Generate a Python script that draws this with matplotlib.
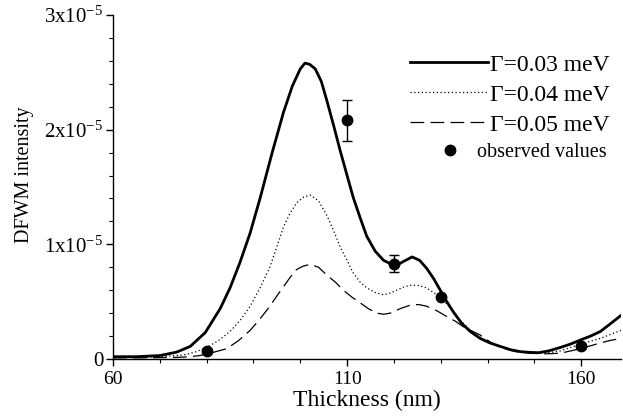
"""DFWM intensity vs. layer thickness for three damping values, with observed points."""
import numpy as np
import matplotlib
matplotlib.use("Agg")
import matplotlib.pyplot as plt
from matplotlib.lines import Line2D
from matplotlib.ticker import FuncFormatter, MultipleLocator, FixedLocator

# values, intensity in units of 1e-5
x_g003 = [60, 65, 70, 73.6, 76.5, 79.7, 82.9, 85, 87.1, 89.3, 91.4, 94.0, 96.4, 98.3,
          100, 101, 102, 103.2, 104.5, 105.7, 107.1, 108.5, 110, 111.3, 112.8, 114.2,
          116, 117.8, 120.3, 122, 123.9, 125.5, 127, 128.5, 129.9, 131.3, 132.7, 134.5,
          136.3, 138.4, 140.5, 142.7, 145, 147, 149, 150.9, 153, 155.5, 157.7, 159.8,
          162, 164.1, 166, 168.5]
y_g003 = [0.02, 0.02, 0.03, 0.06, 0.11, 0.23, 0.44, 0.62, 0.84, 1.1, 1.4, 1.8, 2.15, 2.38,
          2.53, 2.58, 2.57, 2.53, 2.42, 2.25, 2.04, 1.82, 1.6, 1.41, 1.23, 1.07,
          0.94, 0.86, 0.81, 0.85, 0.89, 0.86, 0.79, 0.7, 0.6, 0.5, 0.41, 0.31,
          0.24, 0.18, 0.14, 0.11, 0.08, 0.064, 0.058, 0.055, 0.07, 0.1, 0.13, 0.165,
          0.2, 0.24, 0.3, 0.38]

x_g004 = [60, 65, 70, 75, 77.5, 80, 82.5, 85, 87.2, 89.3, 91.4, 93.5, 95, 96.4, 97.8,
          99.2, 100.6, 102.1, 103.9, 105.7, 107.1, 108.5, 110, 111.3, 112.8, 114.2,
          116, 117.8, 119.2, 120.6, 122.2, 123.8, 125.4, 127, 128.8, 130.6, 132.4,
          134.1, 135.9, 137.7, 140, 142.7, 145, 147, 149, 151, 153, 155.5, 157.7,
          159.8, 162, 164.1, 166, 168.5]
y_g004 = [0.015, 0.015, 0.02, 0.035, 0.06, 0.1, 0.16, 0.24, 0.34, 0.46, 0.62, 0.8, 0.98,
          1.15, 1.27, 1.36, 1.41, 1.43, 1.38, 1.25, 1.12, 0.98, 0.86, 0.75, 0.67, 0.62,
          0.58, 0.56, 0.575, 0.6, 0.63, 0.645, 0.64, 0.62, 0.57, 0.51, 0.43,
          0.34, 0.27, 0.21, 0.15, 0.11, 0.08, 0.064, 0.056, 0.052, 0.055, 0.07, 0.1,
          0.13, 0.155, 0.18, 0.21, 0.25]

x_g005 = [60, 65, 70, 74, 76.5, 78.5, 80.7, 82.5, 84.3, 86.8, 89.3, 91.4, 93.5, 95,
          96.4, 97.8, 99.2, 100.6, 102.1, 103.9, 105.7, 107.5, 109.2, 111, 112.8,
          114.5, 116.3, 117.8, 119.2, 121.4, 123.5, 125.3, 127, 129.2, 131.3, 133.1,
          134.9, 136.6, 138.4, 140.5, 142.7, 145.9, 149.1, 152.3, 155.5, 157.7,
          159.8, 162, 164.1, 166, 168.5]
y_g005 = [0.01, 0.01, 0.012, 0.015, 0.02, 0.03, 0.05, 0.07, 0.09, 0.16, 0.25, 0.35, 0.46,
          0.55, 0.63, 0.71, 0.78, 0.81, 0.825, 0.8, 0.73, 0.67, 0.6, 0.54, 0.49,
          0.44, 0.4, 0.39, 0.4, 0.44, 0.47, 0.475, 0.46, 0.42, 0.37, 0.33,
          0.28, 0.245, 0.21, 0.15, 0.1, 0.065, 0.05, 0.045, 0.05, 0.07,
          0.09, 0.115, 0.14, 0.16, 0.18]

obs_x = [80, 110, 120, 130, 160]
obs_y = [0.07, 2.08, 0.83, 0.54, 0.11]
obs_err = [0.0, 0.18, 0.075, 0.0, 0.0]

labels = ["\u0393=0.03 meV", "\u0393=0.04 meV", "\u0393=0.05 meV", "observed values"]
x_ticks = [60, 110, 160]

SCALE = 1e-5

plt.rcParams["font.family"] = ["Liberation Serif", "DejaVu Serif"]
plt.rcParams["mathtext.fontset"] = "custom"
plt.rcParams["mathtext.rm"] = "Liberation Serif"
plt.rcParams["mathtext.it"] = "Liberation Serif:italic"


def sci_fmt(v, _):
    """Tick labels like 2x10^-5."""
    n = v / SCALE
    if abs(n) < 1e-9:
        return "0"
    return r"%dx10$^{\mathregular{-5}}$" % round(n)


fig = plt.figure(figsize=(6.23, 4.2), dpi=100)
ax = fig.add_axes([113 / 623, 1 - 359 / 420, 508 / 623, 344 / 420])

s = lambda v: np.array(v) * SCALE

ax.plot(x_g003, s(y_g003), color="black", linewidth=2.0, label=labels[0],
        solid_joinstyle="round", zorder=3)
ax.plot(x_g004, s(y_g004), color="black", linewidth=0.9, linestyle=(0, (1, 2)),
        label=labels[1], zorder=3)
ax.plot(x_g005, s(y_g005), color="black", linewidth=0.9, linestyle=(0, (11, 5)),
        label=labels[2], zorder=3)
ax.errorbar(obs_x, s(obs_y), yerr=s(obs_err), fmt="o", color="black", markersize=7.5,
            elinewidth=1.0, capsize=3.6, capthick=1.0, zorder=4)

ax.set_xlim(60, 168.5)
ax.set_ylim(0, 3e-5)
ax.xaxis.set_major_locator(FixedLocator(x_ticks))
ax.xaxis.set_minor_locator(MultipleLocator(10))
ax.yaxis.set_major_locator(MultipleLocator(1e-5))
ax.yaxis.set_minor_locator(MultipleLocator(0.2e-5))
ax.yaxis.set_major_formatter(FuncFormatter(sci_fmt))

for side in ("top", "right"):
    ax.spines[side].set_visible(False)
for side in ("left", "bottom"):
    ax.spines[side].set_linewidth(1.0)
ax.tick_params(which="major", direction="out", length=5, width=1.0, labelsize=14,
               colors="black", pad=2)
ax.tick_params(axis="x", which="major", pad=4)
ax.tick_params(axis="y", which="major", labelsize=15)
ax.tick_params(which="minor", direction="out", length=3, width=0.8)

ax.set_xlabel("Thickness (nm)", fontsize=17, labelpad=1)
ax.set_ylabel("DFWM intensity", fontsize=14.5)
ax.yaxis.set_label_coords(-0.155, 0.535)

leg = ax.legend(loc="upper left", bbox_to_anchor=(410 / 623, 1 - 54 / 420),
                bbox_transform=fig.transFigure, frameon=False, fontsize=17,
                handlelength=3.3, handletextpad=0.1, labelspacing=0.36,
                borderaxespad=0, borderpad=0)
ax.add_artist(leg)

dot = Line2D([], [], linestyle="none", marker="o", color="black", markersize=7.5)
ax.legend(handles=[dot], labels=[labels[3]], loc="upper left",
          bbox_to_anchor=(435 / 623, 1 - 143 / 420), bbox_transform=fig.transFigure,
          frameon=False, fontsize=14.5, handlelength=1.5, handletextpad=0.6,
          borderaxespad=0, borderpad=0)

fig.savefig("out.png", dpi=100)
